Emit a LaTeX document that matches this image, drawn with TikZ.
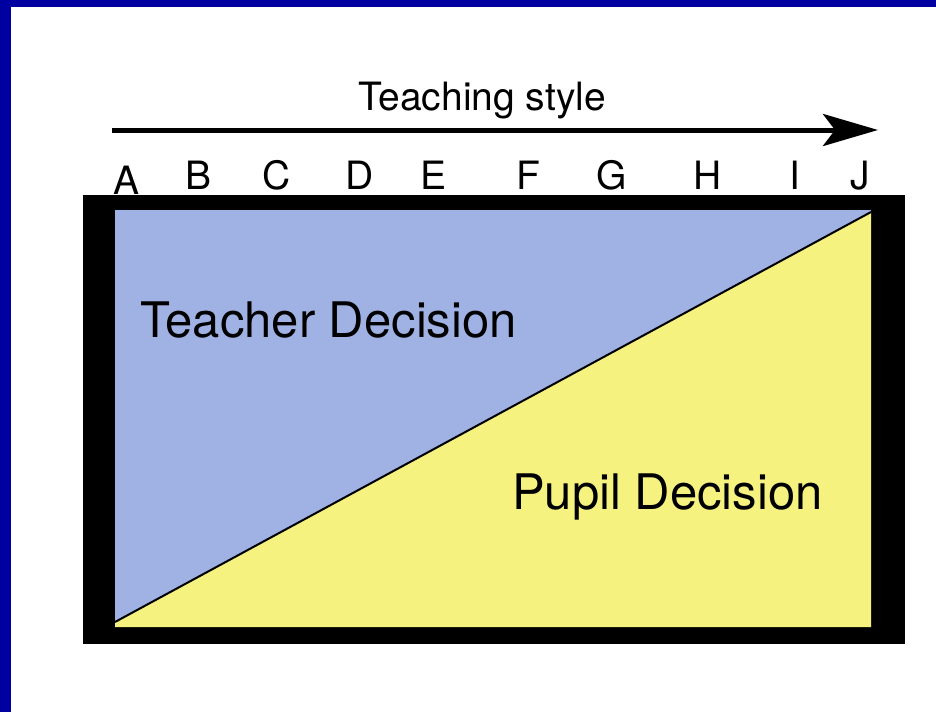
\documentclass[tikz,border=0pt]{standalone}
\usepackage{fontspec}
\setmainfont{TeX Gyre Heros}
\usepackage{xcolor}
\usetikzlibrary{arrows.meta}
\usetikzlibrary{math}

\definecolor{navyedge}{RGB}{0,0,160}
\definecolor{teacherblue}{RGB}{160,178,228}
\definecolor{pupilyellow}{RGB}{245,242,128}

\begin{document}
\begin{tikzpicture}[x=1pt,y=-1pt,
  letter/.style={font=\fontsize{39}{42}\selectfont, inner sep=0pt, anchor=base},
  decision/.style={font=\fontsize{49}{52}\selectfont, inner sep=0pt, anchor=base west}]
\tikzmath{
\xl=115; \xr=871;
\yt=210; \yb=627;
}
\useasboundingbox (0,0) rectangle (936,712);
\fill[navyedge] (0,0) rectangle (936,7);
\fill[navyedge] (0,0) rectangle (11,712);

% frame and the two regions
\fill[black] (\xl-32,\yt-15) rectangle (\xr+34,\yb+17);
\fill[teacherblue] (\xl,\yt) rectangle (\xr,\yb);
\coordinate (low) at (\xl,622);
\coordinate (high) at (\xr,212);
\fill[pupilyellow] (low) -- (high) -- (\xr,\yb) -- (\xl,\yb) -- cycle;
\draw[line width=2] (low) -- (high);

\node[decision] (teacher) at (140,337) {Teacher Decision};
\node[decision] (pupil) at (512,509) {Pupil Decision};

% style axis
\coordinate (from) at (112,130);
\coordinate (to) at (878,130);
\draw[-{Stealth[length=55pt,width=32pt,inset=12pt]},line width=5] (from) -- (to);
\node[letter,font=\fontsize{39}{42}\selectfont] (title) at (482,110) {Teaching style};

\foreach \ch/\x/\y in {A/127/194,B/199/189,C/277/189,D/360/189,E/433/189,
  F/528/189,G/612/189,H/708/189,I/795/189,J/860/189}
  \node[letter] (\ch) at (\x,\y) {\ch};
\end{tikzpicture}
\end{document}
